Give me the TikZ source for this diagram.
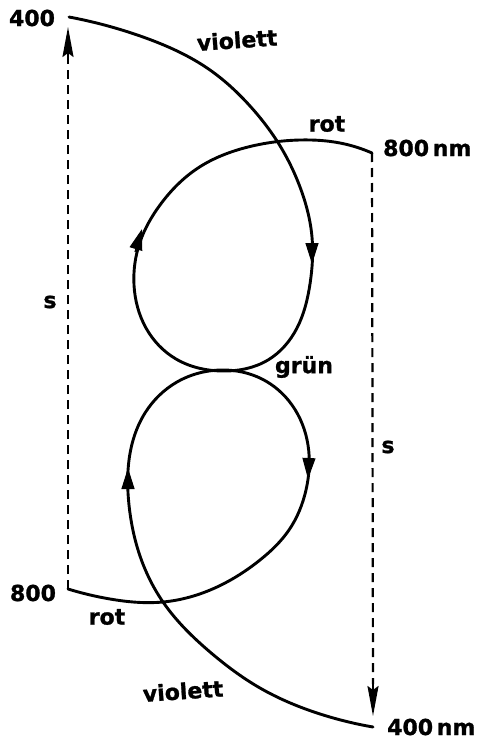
\documentclass[tikz,border=0pt]{standalone}
\usepackage{fontspec}
\setmainfont{DejaVu Sans}
\newfontfamily\lblfont{DejaVu Sans Bold}[FakeBold=1.2]
\usetikzlibrary{arrows.meta,hobby}
\tikzset{
  curve/.style={line width=2.9pt, line cap=round, line join=round},
  dashline/.style={line width=2.2pt, dash pattern=on 9pt off 6pt},
  curvetip/.style={line width=1.2pt, -{Triangle[length=21pt,width=13pt]}},
  sidetip/.style={line width=2.2pt, -{Stealth[length=30pt,width=11pt,inset=4pt]}},
  lbl/.style={font=\fontsize{22}{26}\lblfont, inner sep=0pt}
}
\begin{document}
\begin{tikzpicture}[x=1pt,y=-1pt]
\useasboundingbox (0,0) rectangle (478,741);
% key points
\coordinate (v400) at (69,17);
\coordinate (r800nm) at (372,153);
\coordinate (r800) at (68,589);
\coordinate (v400nm) at (373,727);
\coordinate (ltip) at (68,27);
\coordinate (rtip) at (373,716);
% upper curve: 400 -> violett -> loop -> rot -> 800 nm
\draw[curve, use Hobby shortcut] (v400) .. (143,37) .. (210,70) .. (250,106)
 .. (277,141) .. (300,187) .. (312,237) .. (310,284) .. (297,328) .. (268,360)
 .. (222,371) .. (176,359) .. (146,328) .. (134,285) .. (140,242) .. (160,205)
 .. (198,168) .. (248,147) .. (300,140) .. (340,143) .. (r800nm);
% lower curve: 400 nm -> violett -> loop -> rot -> 800
\draw[curve, use Hobby shortcut] (v400nm) .. (317,713) .. (260,688) .. (210,652)
 .. (163,602) .. (140,556) .. (129,505) .. (129,460) .. (145,413) .. (177,382)
 .. (223,370) .. (262,379) .. (292,405) .. (308,445) .. (306,490) .. (289,530)
 .. (260,560) .. (217,587) .. (163,602) .. (110,599) .. (r800);
% arrowheads on the curves
\coordinate (ura) at (312,242); \coordinate (urb) at (312,264);
\coordinate (ula) at (135,252); \coordinate (ulb) at (142,229);
\coordinate (lla) at (128,491); \coordinate (llb) at (128,468);
\coordinate (lra) at (309,457); \coordinate (lrb) at (308,479);
\draw[curvetip] (ura) -- (urb);
\draw[curvetip] (ula) -- (ulb);
\draw[curvetip] (lla) -- (llb);
\draw[curvetip] (lra) -- (lrb);
% dashed side lines
\draw[dashline] (r800) -- (68,58);
\draw[sidetip] (68,60) -- (ltip);
\draw[dashline] (r800nm) -- (373,684);
\draw[sidetip] (373,682) -- (rtip);
% labels
\node[lbl] (t400) at (32,18) {400};
\node[lbl, rotate=4] (tvio1) at (237,40) {violett};
\node[lbl] (trot1) at (327,124) {rot};
\node[lbl, anchor=west] (t800nm) at (383,148) {800\,nm};
\node[lbl] (ts1) at (50,302) {s};
\node[lbl] (tgruen) at (304,367) {grün};
\node[lbl] (ts2) at (388,447) {s};
\node[lbl] (t800) at (33,593) {800};
\node[lbl] (trot2) at (107,617) {rot};
\node[lbl, rotate=4] (tvio2) at (183,691) {violett};
\node[lbl, anchor=west] (t400nm) at (387,727) {400\,nm};
\end{tikzpicture}
\end{document}
